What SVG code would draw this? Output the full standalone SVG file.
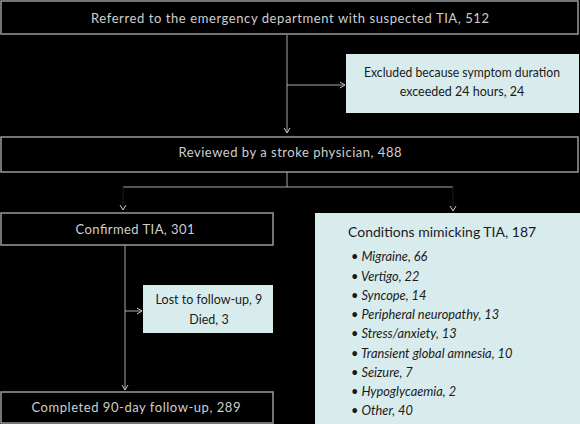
<svg xmlns="http://www.w3.org/2000/svg" width="580" height="424" viewBox="0 0 580 424">
<style>
.bg{fill:#000}
.dbox{fill:#000;stroke:#9a9a9a;stroke-width:1.5}
.lbox{fill:#d9eced;stroke:none}
.dt{font-family:Lato,"Open Sans",sans-serif;font-size:13px;fill:#cfcfcf;text-anchor:middle;dominant-baseline:central}
.lt{font-family:Lato,"Open Sans",sans-serif;font-size:12.5px;fill:#1a1a1a;text-anchor:middle;dominant-baseline:central}
.it{font-family:Lato,"Open Sans",sans-serif;font-size:12.8px;font-style:italic;fill:#1a1a1a;dominant-baseline:central}
.hd{font-family:Lato,"Open Sans",sans-serif;font-size:14px;fill:#1a1a1a;dominant-baseline:central}
.c{fill:none;stroke:#a8a8a8;stroke-width:1}
.cd{fill:none;stroke:#1c1c1c;stroke-width:1}
</style>
<defs>
<marker id="ah" markerWidth="8" markerHeight="8" refX="6" refY="4" orient="auto" markerUnits="userSpaceOnUse">
<path d="M1,1 L6,4 L1,7" fill="none" stroke="#c8c8c8" stroke-width="1"/>
</marker>
</defs>
<rect class="bg" x="0" y="0" width="580" height="424"/>
<g id="connectors">
<path class="c" d="M287,35 V133" marker-end="url(#ah)"/>
<path class="c" d="M287,85 H345" marker-end="url(#ah)"/>
<path class="c" d="M287,172 V187"/>
<path class="c" d="M123,187 H453"/>
<path class="cd" d="M123,187 V210" marker-end="url(#ah)"/>
<path class="cd" d="M453,187 V211" marker-end="url(#ah)"/>
<path class="c" d="M125,245 V390" marker-end="url(#ah)"/>
<path class="c" d="M125,311 H142" marker-end="url(#ah)"/>
</g>
<g id="n-referred">
<rect class="dbox" x="1" y="1" width="577" height="33"/>
<text class="dt" x="290" y="18" textLength="398" lengthAdjust="spacing">Referred to the emergency department with suspected TIA, 512</text>
</g>
<g id="n-excluded">
<rect class="lbox" x="346" y="54" width="233" height="59"/>
<text class="lt" x="462" y="72" textLength="196" lengthAdjust="spacingAndGlyphs">Excluded because symptom duration</text>
<text class="lt" x="462" y="91">exceeded 24 hours, 24</text>
</g>
<g id="n-reviewed">
<rect class="dbox" x="1" y="137" width="577" height="35"/>
<text class="dt" x="290" y="152" textLength="223" lengthAdjust="spacing">Reviewed by a stroke physician, 488</text>
</g>
<g id="n-confirmed">
<rect class="dbox" x="1" y="213" width="272" height="32"/>
<text class="dt" x="135" y="229" textLength="119" lengthAdjust="spacing">Confirmed TIA, 301</text>
</g>
<g id="n-lost">
<rect class="lbox" x="143" y="285" width="130" height="48"/>
<text class="lt" x="209" y="299">Lost to follow-up, 9</text>
<text class="lt" x="209" y="319">Died, 3</text>
</g>
<g id="n-completed">
<rect class="dbox" x="1" y="392" width="272" height="31"/>
<text class="dt" x="136" y="407" textLength="209" lengthAdjust="spacing">Completed 90-day follow-up, 289</text>
</g>
<g id="n-mimics">
<rect class="lbox" x="315" y="213" width="265" height="211"/>
<text class="hd" x="348" y="231">Conditions mimicking TIA, 187</text>
<g class="it">
<text x="351" y="256">• Migraine, 66</text>
<text x="351" y="276">• Vertigo, 22</text>
<text x="351" y="295">• Syncope, 14</text>
<text x="351" y="314">• Peripheral neuropathy, 13</text>
<text x="351" y="333">• Stress/anxiety, 13</text>
<text x="351" y="353">• Transient global amnesia, 10</text>
<text x="351" y="372">• Seizure, 7</text>
<text x="351" y="391">• Hypoglycaemia, 2</text>
<text x="351" y="410">• Other, 40</text>
</g>
</g>
</svg>
